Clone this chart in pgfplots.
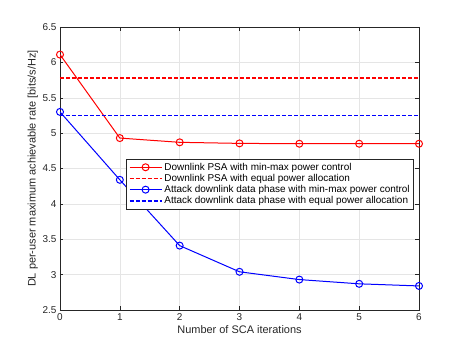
\documentclass[border=0pt]{standalone}
\usepackage{pgfplots}
\pgfplotsset{compat=1.18}
\usepackage{fontspec}
\setmainfont{Liberation Sans}

\definecolor{axgray}{rgb}{0.15,0.15,0.15}
\definecolor{mred}{rgb}{1,0,0}
\definecolor{mblue}{rgb}{0,0,1}

\begin{document}
\begin{tikzpicture}[x=1bp,y=1bp]
\path (-60bp,-38bp) rectangle (403bp,310bp);
\begin{axis}[
    at={(0,0)}, anchor=south west,
    scale only axis,
    width=359bp, height=283bp,
    xmin=0, xmax=6, ymin=2.5, ymax=6.5,
    xtick={0,...,6},
    ytick={2.5,3,...,6.5},
    yticklabels={2.5,3,3.5,4,4.5,5,5.5,6,6.5},
    grid=major,
    major grid style={gray!20, line width=0.4pt},
    axis line style={axgray, line width=0.5pt},
    tick style={axgray, line width=0.5pt},
    tick align=inside,
    major tick length=3.5bp,
    ticklabel style={font=\fontsize{10}{12}\selectfont, text=axgray},
    /pgf/number format/assume math mode=true,
    xlabel={Number of SCA iterations},
    ylabel={DL per-user maximum achievable rate [bits/s/Hz]},
    label style={font=\fontsize{11}{13}\selectfont, text=axgray},
    xlabel style={yshift=2bp},
    ylabel style={yshift=-2bp},
    legend style={
        at={(0.986,0.445)}, anchor=east,
        font=\fontsize{10}{12}\selectfont,
        draw=axgray, line width=0.5pt,
        fill=white,
        row sep=-1.5bp,
        inner sep=2bp,
    },
    legend cell align=left,
    legend image code/.code={
        \draw[mark repeat=2,mark phase=2] plot coordinates {(0bp,0bp) (16bp,0bp) (32bp,0bp)};
    },
]
\addplot[color=mred, line width=1bp, mark=o, mark size=3.5bp, mark options={line width=1bp}] coordinates {
    (0,6.11) (1,4.93) (2,4.87) (3,4.855) (4,4.85) (5,4.85) (6,4.85)
};
\addplot[color=mred, line width=1.7bp, dash pattern=on 4bp off 2bp] coordinates {
    (0,5.78) (6,5.78)
};
\addplot[color=mblue, line width=1bp, mark=o, mark size=3.5bp, mark options={line width=1bp}] coordinates {
    (0,5.30) (1,4.34) (2,3.41) (3,3.04) (4,2.93) (5,2.87) (6,2.84)
};
\addplot[color=mblue, line width=1.7bp, dash pattern=on 4bp off 2bp] coordinates {
    (0,5.25) (6,5.25)
};
\legend{Downlink PSA with min-max power control,
        Downlink PSA with equal power allocation,
        Attack downlink data phase with min-max power control,
        Attack downlink data phase with equal power allocation}
\end{axis}
\end{tikzpicture}
\end{document}
